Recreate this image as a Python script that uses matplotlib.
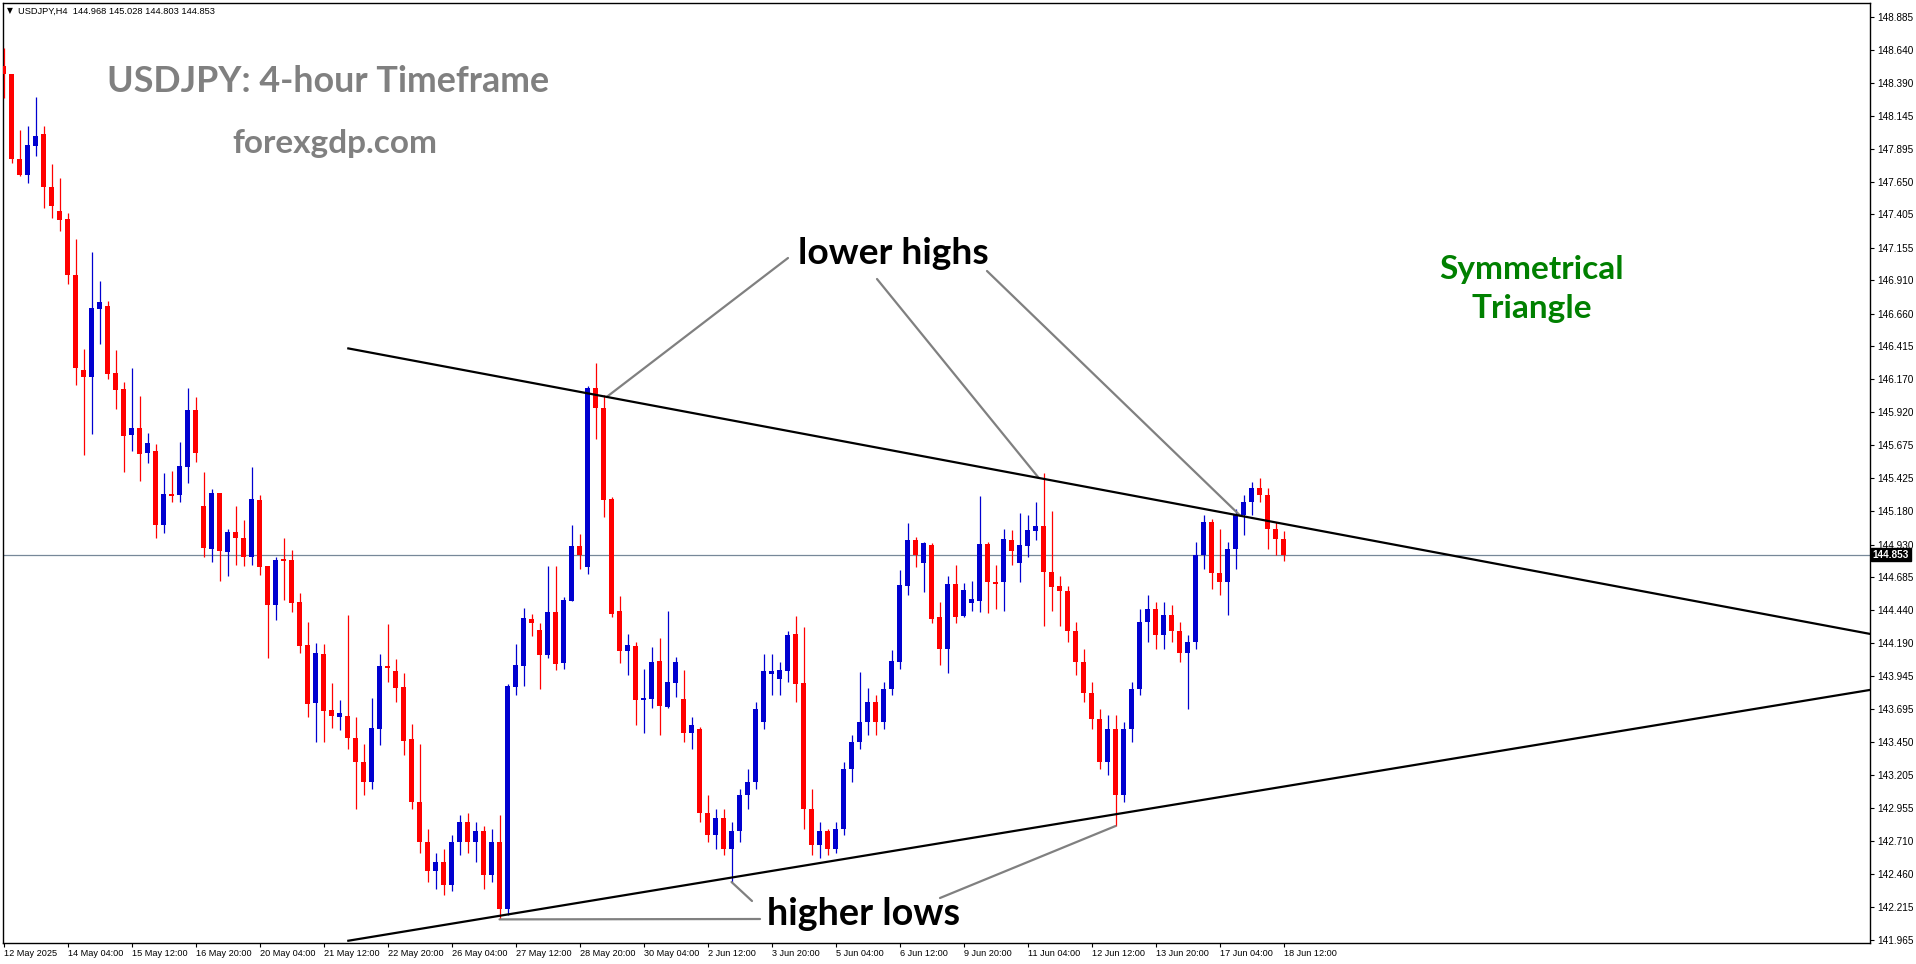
import matplotlib
matplotlib.use("Agg")
import matplotlib.pyplot as plt
import matplotlib.transforms as mtransforms
import numpy as np

W, H = 1916, 964

# USDJPY H4 candles (index 0 = 12 May 20:00)
opens = [148.52, 148.457, 147.818, 147.703, 147.92, 148.008, 147.608, 147.43, 147.37, 146.95,
         146.238, 146.188, 146.698, 146.718, 146.216, 146.096, 145.751, 145.803, 145.618, 145.631,
         145.08, 145.308, 145.30, 145.511, 145.938, 145.219, 144.899, 145.317, 144.877, 145.024,
         144.979, 144.839, 145.264, 144.769, 144.479, 144.814, 144.814, 144.499, 144.177, 143.744,
         144.109, 143.689, 143.639, 143.644, 143.479, 143.30, 143.15, 143.549, 144.02, 143.982,
         143.862, 143.472, 143.00, 142.70, 142.48, 142.55, 142.38, 142.70, 142.85, 142.70,
         142.78, 142.45, 142.70, 142.20, 143.862, 144.02, 144.37, 144.29, 144.105, 144.424,
         144.044, 144.509, 144.919, 144.764, 146.10, 145.95, 145.27, 144.43, 144.13, 144.17,
         143.767, 143.77, 144.057, 143.71, 143.892, 143.772, 143.52, 143.55, 142.92, 142.75,
         142.88, 142.65, 142.78, 143.05, 143.15, 143.60, 143.962, 143.924, 143.984, 144.258,
         143.892, 142.95, 142.68, 142.78, 142.65, 142.80, 143.25, 143.45, 143.60, 143.75,
         143.60, 143.85, 144.052, 144.622, 144.964, 144.79, 144.927, 144.385, 144.148, 144.634,
         144.395, 144.49, 144.509, 144.934, 144.649, 144.647, 144.964, 144.79, 144.922, 145.035,
         145.072, 144.727, 144.617, 144.58, 144.28, 144.05, 143.82, 143.62, 143.30, 143.55,
         143.05, 143.55, 143.85, 144.35, 144.45, 144.25, 144.40, 144.28, 144.12, 144.20,
         144.85, 145.10, 144.72, 144.65, 144.90, 145.15, 145.25, 145.35, 145.30, 145.05,
         144.968]
highs = [148.65, 148.46, 148.037, 148.067, 148.288, 148.067, 147.783, 147.675, 147.413, 147.22,
         146.396, 147.121, 146.905, 146.756, 146.388, 146.146, 146.253, 146.043, 145.766, 145.681,
         145.466, 145.478, 145.70, 146.103, 146.036, 145.474, 145.347, 145.317, 145.047, 145.219,
         145.114, 145.512, 145.302, 144.769, 144.837, 144.979, 144.889, 144.567, 144.352, 144.192,
         144.185, 143.892, 143.764, 144.399, 143.636, 143.434, 143.777, 144.11, 144.335, 144.07,
         143.967, 143.585, 143.434, 142.80, 142.62, 142.65, 142.75, 142.90, 142.92, 142.85,
         142.82, 142.80, 142.90, 143.884, 144.185, 144.455, 144.41, 144.34, 144.769, 144.769,
         144.537, 145.077, 145.009, 146.12, 146.29, 146.05, 145.285, 144.544, 144.26, 144.20,
         143.995, 144.16, 144.232, 144.43, 144.085, 143.99, 143.64, 143.56, 143.05, 142.95,
         142.95, 142.85, 143.10, 143.25, 143.75, 144.11, 144.11, 144.05, 144.28, 144.392,
         144.31, 143.10, 142.85, 142.80, 142.85, 143.30, 143.50, 143.975, 143.855, 143.80,
         143.90, 144.14, 144.74, 145.092, 144.99, 144.947, 144.94, 144.497, 144.694, 144.777,
         144.642, 144.657, 145.294, 144.947, 144.777, 145.047, 145.04, 145.167, 145.152, 145.25,
         145.467, 145.182, 144.694, 144.62, 144.35, 144.15, 143.90, 143.70, 143.65, 143.65,
         143.60, 143.90, 144.45, 144.55, 144.50, 144.50, 144.48, 144.35, 144.25, 144.95,
         145.15, 145.12, 145.05, 144.95, 145.20, 145.30, 145.40, 145.43, 145.35, 145.10,
         145.028]
lows = [148.275, 147.793, 147.695, 147.643, 147.845, 147.455, 147.376, 147.283, 146.88, 146.126,
        145.601, 145.761, 146.436, 146.168, 145.946, 145.476, 145.631, 145.408, 145.543, 144.98,
        145.02, 145.25, 145.25, 145.393, 145.551, 144.839, 144.802, 144.659, 144.697, 144.779,
        144.772, 144.779, 144.704, 144.082, 144.367, 144.517, 144.427, 144.119, 143.639, 143.45,
        143.45, 143.557, 143.54, 143.40, 142.95, 143.05, 143.10, 143.43, 143.902, 143.752,
        143.355, 142.95, 142.62, 142.40, 142.35, 142.30, 142.33, 142.60, 142.62, 142.55,
        142.35, 142.40, 142.12, 142.15, 143.802, 143.869, 144.242, 143.85, 144.082, 143.992,
        143.997, 144.509, 144.749, 144.712, 145.72, 145.14, 144.388, 144.044, 143.954, 143.58,
        143.52, 143.707, 143.50, 143.702, 143.789, 143.45, 143.40, 142.85, 142.70, 142.65,
        142.60, 142.40, 142.70, 142.95, 143.10, 143.55, 143.80, 143.80, 143.90, 143.75,
        142.80, 142.60, 142.58, 142.60, 142.62, 142.75, 143.15, 143.40, 143.50, 143.50,
        143.55, 143.80, 143.997, 144.554, 144.764, 144.577, 144.345, 144.03, 143.967, 144.345,
        144.387, 144.43, 144.424, 144.418, 144.45, 144.43, 144.779, 144.652, 144.839, 144.967,
        144.319, 144.43, 144.319, 144.20, 143.95, 143.75, 143.55, 143.25, 143.20, 142.82,
        143.00, 143.45, 143.80, 144.20, 144.15, 144.15, 144.20, 144.05, 143.70, 144.15,
        144.75, 144.60, 144.55, 144.40, 144.75, 145.00, 145.15, 145.25, 144.90, 144.85,
        144.803]
closes = [148.455, 147.818, 147.703, 147.925, 147.993, 147.613, 147.47, 147.365, 146.948, 146.251,
          146.188, 146.703, 146.748, 146.211, 146.091, 145.746, 145.803, 145.611, 145.691, 145.08,
          145.308, 145.293, 145.518, 145.938, 145.618, 144.907, 145.317, 144.884, 145.024, 144.982,
          144.839, 145.272, 144.764, 144.479, 144.814, 144.81, 144.494, 144.172, 143.737, 144.117,
          143.684, 143.647, 143.667, 143.479, 143.30, 143.15, 143.554, 144.02, 144.007, 143.857,
          143.46, 143.00, 142.70, 142.48, 142.55, 142.38, 142.70, 142.85, 142.70, 142.78,
          142.45, 142.70, 142.20, 143.869, 144.027, 144.38, 144.343, 144.105, 144.424, 144.037,
          144.514, 144.919, 144.854, 146.10, 145.95, 145.266, 144.41, 144.13, 144.177, 143.767,
          143.78, 144.05, 143.722, 143.897, 144.05, 143.52, 143.58, 142.92, 142.75, 142.88,
          142.65, 142.78, 143.05, 143.15, 143.70, 143.982, 143.982, 143.99, 144.25, 143.887,
          142.95, 142.68, 142.78, 142.65, 142.80, 143.25, 143.45, 143.60, 143.75, 143.60,
          143.85, 144.058, 144.627, 144.964, 144.852, 144.94, 144.375, 144.148, 144.634, 144.387,
          144.59, 144.52, 144.934, 144.647, 144.637, 144.972, 144.884, 144.927, 145.04, 145.072,
          144.727, 144.612, 144.58, 144.28, 144.05, 143.82, 143.62, 143.30, 143.55, 143.05,
          143.55, 143.85, 144.35, 144.45, 144.25, 144.40, 144.28, 144.12, 144.20, 144.85,
          145.10, 144.72, 144.65, 144.90, 145.15, 145.25, 145.35, 145.30, 145.05, 144.968,
          144.853]

time_labels = ["12 May 2025", "14 May 04:00", "15 May 12:00", "16 May 20:00", "20 May 04:00",
               "21 May 12:00", "22 May 20:00", "26 May 04:00", "27 May 12:00", "28 May 20:00",
               "30 May 04:00", "2 Jun 12:00", "3 Jun 20:00", "5 Jun 04:00", "6 Jun 12:00",
               "9 Jun 20:00", "11 Jun 04:00", "12 Jun 12:00", "13 Jun 20:00", "17 Jun 04:00",
               "18 Jun 12:00"]
label_idx = list(range(0, 8 * len(time_labels), 8))

price_ticks = [148.885, 148.640, 148.390, 148.145, 147.895, 147.650, 147.405, 147.155, 146.910,
               146.660, 146.415, 146.170, 145.920, 145.675, 145.425, 145.180, 144.930, 144.685,
               144.440, 144.190, 143.945, 143.695, 143.450, 143.205, 142.955, 142.710, 142.460,
               142.215, 141.965]
last_price = 144.853

# trendlines (candle index, price)
upper_x = [43.1, 233.3]
upper_y = [146.40, 144.26]
lower_x = [43.1, 233.3]
lower_y = [141.96, 143.84]

# pointer lines: candle where they end, and where they start (figure px from top-left)
lh_end_idx = [75.4, 129.4, 154.6]
lh_start = [(788, 258), (877, 279), (987, 271)]
hl_end_idx = [62, 91, 139]
hl_start = [(760, 919), (752, 901), (940, 898)]

fig = plt.figure(figsize=(W / 100, H / 100), dpi=100)
fig.patch.set_facecolor("white")
ax = fig.add_axes([2.5 / W, 1 - 943 / H, (1870 - 2.5) / W, (943 - 2.5) / H])
ax.set_xlim(-0.125, 233.3)
ax.set_ylim(141.943, 148.993)

idx = np.arange(len(opens))
o = np.array(opens)
c = np.array(closes)
up = c >= o
cols = np.where(up, "#0000D0", "#FF0000")

ax.vlines(idx, lows, highs, colors=cols, linewidth=0.9, zorder=3)
body_lo = np.minimum(o, c)
body_h = np.maximum(np.abs(c - o), 0.008)
ax.bar(idx, body_h, bottom=body_lo, width=0.6, color=cols, linewidth=0, zorder=4)

ax.axhline(last_price, color="#778899", linewidth=0.9, zorder=2)

ax.plot(upper_x, upper_y, color="black", linewidth=1.6, zorder=5)
ax.plot(lower_x, lower_y, color="black", linewidth=1.6, zorder=5)

for (sx, sy), ex in zip(lh_start, lh_end_idx):
    ey = np.interp(ex, upper_x, upper_y)
    ax.annotate("", xy=(ex, ey), xytext=(sx, H - sy), textcoords="figure pixels",
                arrowprops=dict(arrowstyle="-", color="#808080", lw=1.6, shrinkA=0, shrinkB=0))
for (sx, sy), ei in zip(hl_start, hl_end_idx):
    ax.annotate("", xy=(ei, lows[ei]), xytext=(sx, H - sy), textcoords="figure pixels",
                arrowprops=dict(arrowstyle="-", color="#808080", lw=1.6, shrinkA=0, shrinkB=0))

# axes styling like the terminal
for s in ax.spines.values():
    s.set_color("black")
    s.set_linewidth(1.0)
ax.yaxis.tick_right()
ax.set_yticks(price_ticks)
ax.set_yticklabels([f"{p:.3f}" for p in price_ticks], family="Liberation Sans", fontsize=7.2)
ax.set_xticks(label_idx)
ax.set_xticklabels(time_labels, ha="left", family="Liberation Sans", fontsize=6.6)
ax.tick_params(axis="both", direction="out", length=3, width=0.8, colors="black", pad=1.5)
ax.tick_params(axis="y", pad=2)

trans = mtransforms.blended_transform_factory(ax.transAxes, ax.transData)
ax.text(1.0015, last_price, f"{last_price:.3f}", transform=trans, ha="left", va="center",
        fontsize=7.2, family="Liberation Sans", color="white", fontweight="bold",
        bbox=dict(boxstyle="square,pad=0.15", facecolor="black", edgecolor="black"))


def fx(x):
    return x / W


def fy(y):
    return 1 - y / H


fig.text(fx(7), fy(11), "\u25bc", fontsize=5.5, va="center", ha="left", color="black")
fig.text(fx(18), fy(11), "USDJPY,H4  144.968 145.028 144.803 144.853", fontsize=6.7,
         family="Liberation Sans", va="center", ha="left", color="black")

fig.text(fx(107), fy(82), "USDJPY: 4-hour Timeframe", fontsize=25.8, fontweight="bold",
         family="Lato", color="#808080", va="center", ha="left")
fig.text(fx(232), fy(144), "forexgdp.com", fontsize=24, fontweight="bold",
         family="Lato", color="#808080", va="center", ha="left")
fig.text(fx(798), fy(254), "lower highs", fontsize=26.8, fontweight="bold",
         family="Lato", color="black", va="center", ha="left")
fig.text(fx(767), fy(914), "higher lows", fontsize=27.2, fontweight="bold",
         family="Lato", color="black", va="center", ha="left")
fig.text(fx(1532), fy(289), "Symmetrical\nTriangle", fontsize=24, fontweight="bold",
         family="Lato", color="#008000", va="center", ha="center", linespacing=1.38)

fig.savefig("out.png", dpi=100, facecolor="white")
